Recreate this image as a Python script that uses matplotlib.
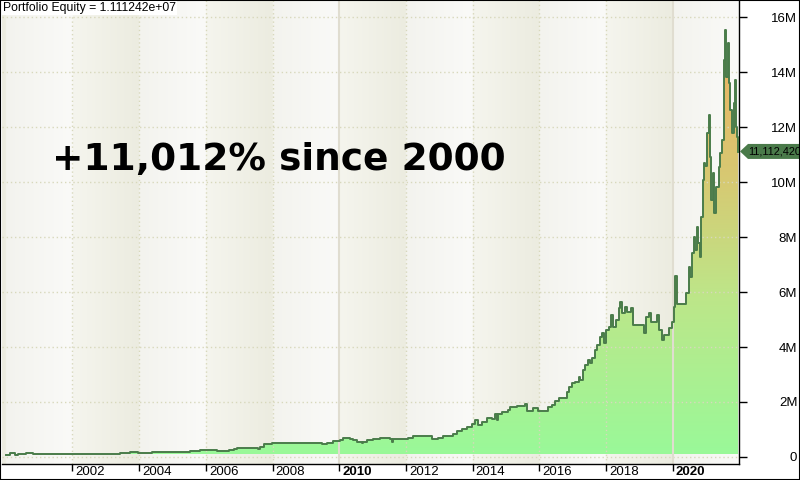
import matplotlib
matplotlib.use("Agg")
import matplotlib.pyplot as plt
import numpy as np
from matplotlib.colors import LinearSegmentedColormap, to_rgb
from matplotlib.patches import Polygon, Rectangle
from matplotlib.transforms import IdentityTransform

# equity curve (decimal year, equity in millions)
years = [
    2000.00, 2000.13, 2000.28, 2000.37, 2000.61, 2000.82, 2003.43, 2003.73, 2003.97, 2004.39,
    2004.84, 2005.53, 2005.83, 2005.98, 2006.33, 2006.48, 2006.68, 2006.83, 2006.93, 2007.48,
    2007.57, 2007.63, 2007.73, 2007.83, 2007.98, 2009.48, 2009.63, 2009.82, 2010.02, 2010.12,
    2010.32, 2010.42, 2010.52, 2010.67, 2010.72, 2010.82, 2011.02, 2011.22, 2011.42, 2011.52,
    2011.57, 2011.62, 2011.82, 2012.07, 2012.22, 2012.77, 2012.97, 2013.12, 2013.42, 2013.52,
    2013.67, 2013.82, 2013.97, 2014.07, 2014.17, 2014.27, 2014.42, 2014.57, 2014.67, 2014.72,
    2014.77, 2014.87, 2015.07, 2015.12, 2015.32, 2015.57, 2015.62, 2015.82, 2015.97, 2016.27,
    2016.37, 2016.47, 2016.57, 2016.82, 2016.87, 2016.97, 2017.07, 2017.17, 2017.22, 2017.30,
    2017.37, 2017.44, 2017.50, 2017.57, 2017.65, 2017.72, 2017.80, 2017.87, 2017.92, 2017.99,
    2018.07, 2018.14, 2018.20, 2018.30, 2018.37, 2018.42, 2018.47, 2018.57, 2018.62, 2018.74,
    2018.80, 2019.12, 2019.20, 2019.27, 2019.34, 2019.52, 2019.57, 2019.67, 2019.74, 2019.87,
    2019.97, 2020.02, 2020.07, 2020.12, 2020.40, 2020.47, 2020.52, 2020.57, 2020.62, 2020.67,
    2020.72, 2020.75, 2020.80, 2020.84, 2020.89, 2020.92, 2020.97, 2021.02, 2021.07, 2021.10,
    2021.14, 2021.20, 2021.24, 2021.30, 2021.37, 2021.42, 2021.47, 2021.52, 2021.57, 2021.60,
    2021.64, 2021.69, 2021.72, 2021.77, 2021.82, 2021.86, 2021.90, 2021.92, 2021.95,
]
equity_m = [
    0.09, 0.13, 0.09, 0.11, 0.13, 0.11, 0.13, 0.17, 0.14, 0.17,
    0.18, 0.22, 0.24, 0.25, 0.22, 0.20, 0.24, 0.29, 0.31, 0.33,
    0.28, 0.37, 0.46, 0.48, 0.50, 0.47, 0.52, 0.58, 0.62, 0.70,
    0.65, 0.60, 0.55, 0.52, 0.56, 0.60, 0.65, 0.70, 0.68, 0.64,
    0.55, 0.64, 0.65, 0.70, 0.75, 0.65, 0.70, 0.78, 0.84, 0.96,
    1.03, 1.08, 1.20, 1.35, 1.16, 1.28, 1.43, 1.38, 1.56, 1.35,
    1.56, 1.65, 1.71, 1.83, 1.87, 1.92, 1.68, 1.77, 1.68, 1.81,
    1.89, 2.04, 2.15, 2.37, 2.56, 2.68, 2.74, 2.90, 2.80, 3.16,
    3.35, 3.53, 3.41, 3.59, 3.89, 4.07, 4.37, 4.52, 4.13, 4.62,
    4.74, 5.16, 4.74, 4.98, 5.41, 5.65, 5.23, 5.47, 5.28, 5.41,
    4.80, 4.50, 5.10, 5.23, 4.92, 5.16, 4.62, 4.25, 4.44, 4.68,
    4.92, 5.47, 6.60, 5.56, 5.95, 6.92, 6.56, 7.41, 8.01, 7.53,
    8.37, 7.77, 7.28, 8.74, 10.07, 10.68, 10.60, 11.80, 12.44, 10.92,
    9.35, 10.32, 8.86, 9.83, 10.56, 11.04, 11.53, 14.44, 15.53, 13.83,
    15.04, 13.59, 12.62, 11.77, 12.86, 13.71, 12.01, 11.65, 11.11,
]

start_capital_m = 0.1
final_equity = 11112420
title = "Portfolio Equity = 1.111242e+07"
headline = "+11,012% since 2000"
tick_years = list(range(2002, 2021, 2))
bold_years = (2010, 2020)
y_ticks_m = list(range(0, 17, 2))

W, H = 800, 480
x_lo, x_hi = 1999.89, 2021.98
y_lo, y_hi = -0.255, 16.62

fig = plt.figure(figsize=(W / 100, H / 100), dpi=100)
fig.patch.set_facecolor("white")
ax = fig.add_axes([2 / W, 16 / H, 737 / W, 464 / H])
ax.set_xlim(x_lo, x_hi)
ax.set_ylim(y_lo, y_hi)

# alternating two-year background bands with a soft horizontal gradient
xs = np.linspace(x_lo, x_hi, 1500)
light_l, light_r = np.array(to_rgb("#f3f3ee")), np.array(to_rgb("#fafaf8"))
dark_l, dark_r = np.array(to_rgb("#f5f5ee")), np.array(to_rgb("#ecece0"))
bg = np.zeros((1, len(xs), 3))
for i, t in enumerate(xs):
    k = int(np.floor((t - 2000) / 2))
    f = ((t - 2000) % 2) / 2
    if k % 2:
        bg[0, i] = dark_l + (dark_r - dark_l) * f
    else:
        bg[0, i] = light_l + (light_r - light_l) * f
ax.imshow(bg, extent=[x_lo, x_hi, y_lo, y_hi], aspect="auto", zorder=0,
          interpolation="bilinear")

# gradient fill under the equity curve
fill = ax.fill_between(years, start_capital_m, equity_m, step="post",
                       facecolor="none", edgecolor="none", zorder=1)
cmap = LinearSegmentedColormap.from_list(
    "eq", [(0.0, "#99f999"), (0.35, "#bde689"), (0.6, "#d6ca73"),
           (0.85, "#e8b665"), (1.0, "#efae5e")])
grad = np.linspace(0, 1, 256).reshape(-1, 1)
im = ax.imshow(grad, extent=[x_lo, x_hi, 0, y_hi], origin="lower", aspect="auto",
               cmap=cmap, zorder=1)
im.set_clip_path(fill.get_paths()[0], transform=ax.transData)
ax.set_xlim(x_lo, x_hi)
ax.set_ylim(y_lo, y_hi)

# grid
dot = (0, (1, 2))
for v in y_ticks_m:
    ax.axhline(v, color="#d8d8bc", lw=1, ls=dot, zorder=2)
for yr in tick_years:
    if yr in bold_years:
        ax.axvline(yr, color="#e0ddd0", lw=1.5, zorder=2)
    else:
        ax.axvline(yr, color="#d8d8bc", lw=1, ls=dot, zorder=2)

ax.step(years, equity_m, where="post", color="#4a7c4a", lw=1.4, zorder=3)

# axes frame
for side in ("top", "left"):
    ax.spines[side].set_visible(False)
for side in ("bottom", "right"):
    ax.spines[side].set_color("black")
    ax.spines[side].set_linewidth(1)

ax.yaxis.tick_right()
ax.set_yticks(y_ticks_m)
ax.set_yticklabels([f"{v}M" if v else "0" for v in y_ticks_m])
ax.tick_params(axis="y", direction="out", length=6, width=1, pad=36,
               labelsize=9.5, labelfontfamily="Liberation Sans")
for lab in ax.get_yticklabels():
    lab.set_horizontalalignment("right")

ax.set_xticks(tick_years)
ax.set_xticklabels([""] * len(tick_years))
ax.tick_params(axis="x", direction="out", length=5, width=1)
for yr in tick_years:
    ax.text(yr + 0.09, -0.0175, str(yr), transform=ax.get_xaxis_transform(),
            ha="left", va="center", fontsize=9.5, family="Liberation Sans",
            fontweight="bold" if yr in bold_years else "normal")

fig.text(3 / W, 1 - 8 / H, title, ha="left", va="center", fontsize=8.8,
         family="Liberation Sans",
         bbox=dict(facecolor="white", edgecolor="none", pad=1.0))

fig.text(52 / W, 1 - 160 / H, headline, ha="left", va="center", fontsize=27,
         fontweight="bold", family="DejaVu Sans")

# last-value marker on the right axis
fig.canvas.draw()
_, yc = ax.transData.transform((x_hi, final_equity / 1e6))
pts = [(740, yc), (748, yc + 7.5), (W, yc + 7.5), (W, yc - 7.5), (748, yc - 7.5)]
fig.patches.append(Polygon(pts, closed=True, facecolor="#4a7a4a", edgecolor="none",
                           transform=IdentityTransform(), figure=fig))
fig.text(748.5 / W, yc / H, f"{final_equity:,}", ha="left", va="center",
         fontsize=7.9, family="Liberation Sans", color="black")

# outer border
fig.patches.append(Rectangle((0, 0), 1, 1, transform=fig.transFigure, fill=False,
                             edgecolor="black", lw=1.5, figure=fig))

fig.savefig("out.png", dpi=100)
plt.close(fig)
